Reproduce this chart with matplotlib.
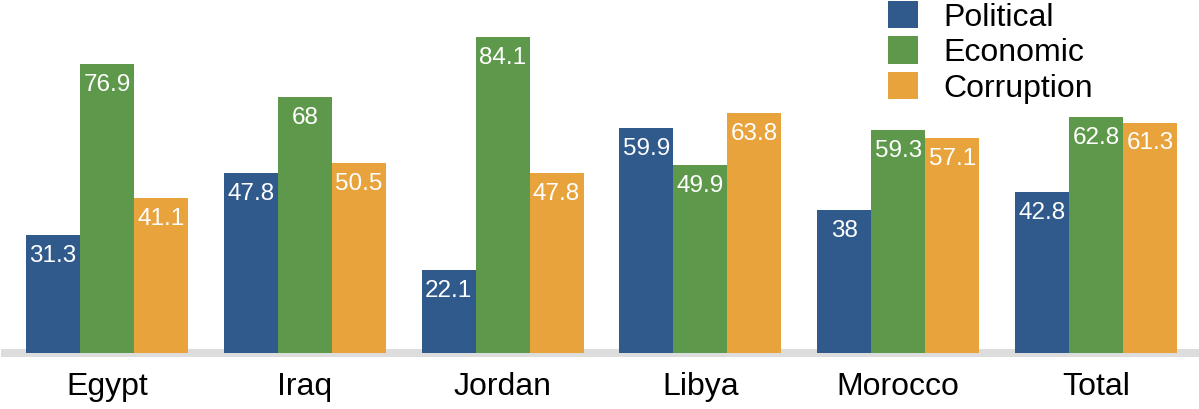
import matplotlib
matplotlib.use("Agg")
import matplotlib.pyplot as plt
import numpy as np
from matplotlib.patches import Patch

categories = ["Egypt", "Iraq", "Jordan", "Libya", "Morocco", "Total"]
series_names = ["Political", "Economic", "Corruption"]
political = [31.3, 47.8, 22.1, 59.9, 38, 42.8]
economic = [76.9, 68, 84.1, 49.9, 59.3, 62.8]
corruption = [41.1, 50.5, 47.8, 63.8, 57.1, 61.3]
colors = ["#2F5A8B", "#5E984A", "#E8A33D"]

plt.rcParams['font.family'] = ['Liberation Sans', 'DejaVu Sans']

W, H = 1199, 409
fig = plt.figure(figsize=(W / 100, H / 100), dpi=100)
base = 353
ax = fig.add_axes([5 / W, (H - base) / H, (W - 5) / W, base / H])

x = np.arange(len(categories))
bw = 54 / 198
for i, (vals, col) in enumerate(zip([political, economic, corruption], colors)):
    pos = x + (i - 1) * bw
    bars = ax.bar(pos, vals, width=bw, color=col, zorder=3, linewidth=0)
    for p, v in zip(pos, vals):
        ax.annotate(f"{v:g}", xy=(p, v), xytext=(0, -15), textcoords="offset points",
                    ha="center", va="center", color="white", fontsize=17.5, zorder=4)

ax.axhline(0, color="#DDDDDD", linewidth=5.8, zorder=2, clip_on=False)
ax.set_xlim(-(107 - 5) / 198, 5 + (1199 - 1096) / 198)
ax.set_ylim(0, base / 3.76)
ax.set_xticks(x)
ax.set_xticklabels(categories, fontsize=23)
ax.tick_params(axis="x", length=0, pad=14)
ax.set_yticks([])
for s in ax.spines.values():
    s.set_visible(False)

handles = [Patch(facecolor=c, edgecolor="none") for c in colors]
leg = fig.legend(handles, series_names, loc="upper left",
                 bbox_to_anchor=(888 / W, 1.0 - 1 / H), frameon=False, fontsize=23,
                 borderpad=0, borderaxespad=0, handlelength=0.94, handleheight=0.94,
                 handletextpad=0.78, labelspacing=0.12)

fig.savefig("out.png", dpi=100)
